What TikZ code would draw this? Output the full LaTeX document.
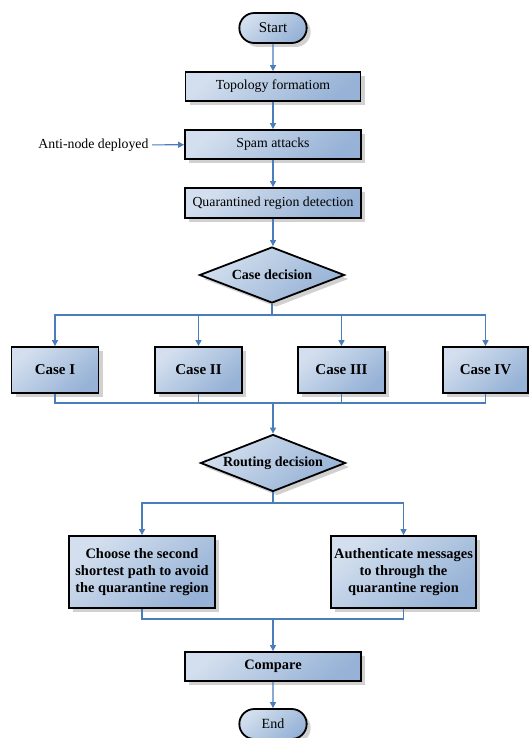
\documentclass[tikz,border=0pt]{standalone}
\usepackage{fontspec}
\setmainfont{Liberation Serif}
\usetikzlibrary{shapes.geometric,shapes.misc,arrows.meta,shadows}
\definecolor{lineblue}{HTML}{4A7EBB}
\definecolor{filllight}{HTML}{D3DFEE}
\definecolor{filldark}{HTML}{96B2D6}
\tikzset{
  shaded/.style={draw=black, line width=1.8pt,
    top color=filllight, bottom color=filldark, shading angle=40,
    drop shadow={shadow xshift=4pt, shadow yshift=-4pt, fill=black!18, opacity=1}},
  procbox/.style={shaded, rectangle, inner sep=2pt, align=center,
    font=\fontsize{13.8}{17}\selectfont},
  boldbox/.style={procbox, font=\fontsize{14.4}{17.3}\selectfont\bfseries},
  casebox/.style={boldbox, minimum width=87pt, minimum height=46pt,
    font=\fontsize{15}{18}\selectfont\bfseries},
  termbox/.style={shaded, rounded rectangle, minimum width=74pt, minimum height=30pt,
    font=\fontsize{15}{18}\selectfont},
  decision/.style={shaded, diamond, aspect=2.6, inner sep=0pt, minimum width=145pt,
    minimum height=56pt, font=\fontsize{14}{17}\selectfont\bfseries},
  link/.style={draw=lineblue, line width=1.1pt},
  conn/.style={link, -{Triangle[width=6pt,length=6pt]}},
}
\begin{document}
\begin{tikzpicture}[x=1pt, y=-1pt]
  \useasboundingbox (0,0) rectangle (528,738);

  % main sequence
  \node[termbox] (start) at (273,28) {Start};
  \node[procbox, minimum width=175pt, minimum height=29pt] (topo) at (273,86.5) {Topology formatiom};
  \node[procbox, minimum width=176pt, minimum height=29pt] (spam) at (273,144.5) {Spam attacks};
  \node[procbox, minimum width=176pt, minimum height=30pt] (quar) at (273,203) {Quarantined region detection};
  \node[anchor=east, font=\fontsize{13.8}{17}\selectfont] (anti) at (152,145) {Anti-node deployed};

  % case decision and its four branches
  \node[decision] (cased) at (272,275) {Case decision};
  \node[casebox] (case1) at (55,370) {Case I};
  \node[casebox] (case2) at (198.5,370) {Case II};
  \node[casebox] (case3) at (341.5,370) {Case III};
  \node[casebox, minimum width=85pt] (case4) at (485.5,370) {Case IV};
  \coordinate (split1) at (272,315);
  \coordinate (join1) at (273,403);

  % routing decision and its two branches
  \node[decision, minimum height=57pt] (routd) at (273,463) {Routing decision};
  \node[boldbox, minimum width=146pt, minimum height=72pt] (avoid) at (142,572)
    {Choose the second\\shortest path to avoid\\the quarantine region};
  \node[boldbox, minimum width=145pt, minimum height=72pt] (auth) at (403.5,572)
    {Authenticate messages\\to through the\\quarantine region};
  \coordinate (split2) at (273,503);
  \coordinate (join2) at (273,619);

  \node[boldbox, minimum width=176pt, minimum height=29pt] (cmp) at (273,666.5) {Compare};
  \node[termbox, font=\fontsize{14}{17}\selectfont] (end) at (273,724) {End};

  % connectors
  \draw[conn] (start) -- (topo);
  \draw[conn] (topo) -- (spam);
  \draw[conn] (spam) -- (quar);
  \draw[conn] (anti) -- (spam);
  \draw[conn] (quar.south) -- (quar.south |- cased.north);

  \draw[link] (cased.south) -- (split1);
  \draw[conn] (split1) -| (case1.north);
  \draw[conn] (split1) -| (case2.north);
  \draw[conn] (split1) -| (case3.north);
  \draw[conn] (split1) -| (case4.north);

  \draw[link] (case1.south) |- (join1);
  \draw[link] (case2.south) |- (join1);
  \draw[link] (case3.south) |- (join1);
  \draw[link] (case4.south) |- (join1);
  \draw[conn] (join1) -- (routd.north);

  \draw[link] (routd.south) -- (split2);
  \draw[conn] (split2) -| (avoid.north);
  \draw[conn] (split2) -| (auth.north);

  \draw[link] (avoid.south) |- (join2);
  \draw[link] (auth.south) |- (join2);
  \draw[conn] (join2) -- (cmp);
  \draw[conn] (cmp) -- (end);
\end{tikzpicture}
\end{document}
